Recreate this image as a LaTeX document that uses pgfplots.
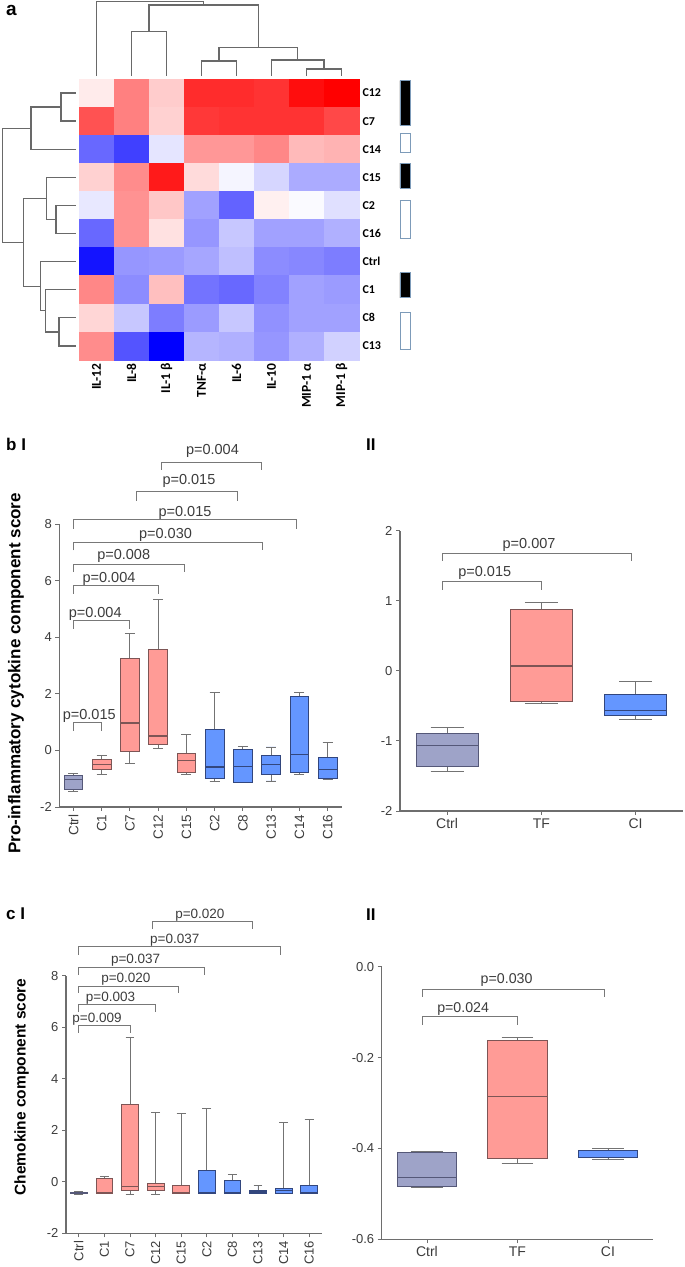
\documentclass[border=0pt]{standalone}
\usepackage{pgfplots}
\pgfplotsset{compat=1.18}
\usepgfplotslibrary{statistics}
\usepackage{fontspec}
\setmainfont{Liberation Sans}
\newfontfamily\hmfont{Carlito}
\definecolor{axg}{RGB}{110,110,110}
\definecolor{txg}{RGB}{60,60,60}
\definecolor{brg}{RGB}{120,120,120}
\definecolor{dg}{RGB}{105,105,105}
\definecolor{wg}{RGB}{115,115,115}
\definecolor{ctrlF}{RGB}{158,163,200}
\definecolor{ctrlD}{RGB}{85,88,120}
\definecolor{tfF}{RGB}{255,155,150}
\definecolor{tfD}{RGB}{125,85,85}
\definecolor{ciF}{RGB}{100,150,255}
\definecolor{ciD}{RGB}{50,70,125}
\definecolor{ibox}{RGB}{125,155,185}
\newcommand{\fs}[1]{\fontsize{#1}{#1}\selectfont}
\newcommand{\bp}[7]{\addplot[#1, boxplot prepared={draw position=#2, lower whisker=#3, lower quartile=#4, median=#5, upper quartile=#6, upper whisker=#7}] coordinates {};}
\def\pvf{\fs{14.5}}
\newcommand{\pv}[3]{\node[anchor=base, text=txg, inner sep=0pt, font=\pvf] at (axis cs:#1,#2) {#3};}
\pgfplotsset{
  bx/.style={scale only axis, axis x line*=bottom, axis y line*=left,
     axis line style={draw=axg, line width=1.1pt, -},
     tick align=outside, major tick length=4pt, minor tick num=0,
     tick style={draw=axg, line width=0.9pt},
     clip=false,
     yticklabel style={font=\fs{13}, text=txg},
     xticklabel style={text=txg},
     boxplot/draw direction=y,
     boxplot/box extend=0.66, boxplot/whisker extend=0.35,
     boxplot/every whisker/.style={draw=wg},
     boxplot/every median/.style={line width=1.2pt}},
  ctrl/.style={draw=ctrlD, fill=ctrlF, line width=0.9pt, solid, mark=none},
  tf/.style={draw=tfD, fill=tfF, line width=0.9pt, solid, mark=none},
  ci/.style={draw=ciD, fill=ciF, line width=0.9pt, solid, mark=none},
  brk/.style={draw=brg, line width=0.9pt, mark=none, solid},
  dend/.style={draw=dg, line width=1.3pt, mark=none, solid},
}
\begin{document}
\begin{tikzpicture}
% ---------------- panel a: heatmap ----------------
\begin{axis}[at={(79pt,907pt)}, anchor=south west, scale only axis,
  width=280pt, height=281pt, xmin=-0.5, xmax=7.5, ymin=-0.5, ymax=9.5,
  y dir=reverse, clip=false, axis line style={draw=none}, major tick length=0pt,
  xtick={0,...,7}, xticklabels={IL-12,IL-8,IL-1 β,TNF-α,IL-6,IL-10,MIP-1 α,MIP-1 β},
  xticklabel style={rotate=90, anchor=east, font=\hmfont\bfseries\fs{13.5}},
  ytick={0,...,9}, yticklabels={C12,C7,C14,C15,C2,C16,Ctrl,C1,C8,C13},
  yticklabel pos=right, yticklabel style={anchor=west, font=\hmfont\bfseries\fs{12}},
  colormap={bwr}{rgb255(0cm)=(0,0,255); rgb255(1cm)=(255,255,255); rgb255(2cm)=(255,0,0)},
  point meta min=-1, point meta max=1]
\addplot[matrix plot*, mesh/cols=8, mesh/rows=10, point meta=explicit] table[meta=c] {
x y c
0 0 0.08
1 0 0.5
2 0 0.2
3 0 0.83
4 0 0.83
5 0 0.8
6 0 0.95
7 0 1.0
0 1 0.68
1 1 0.5
2 1 0.18
3 1 0.78
4 1 0.8
5 1 0.8
6 1 0.8
7 1 0.72
0 2 -0.59
1 2 -0.75
2 2 -0.1
3 2 0.41
4 2 0.41
5 2 0.47
6 2 0.27
7 2 0.3
0 3 0.18
1 3 0.45
2 3 0.9
3 3 0.14
4 3 -0.04
5 3 -0.16
6 3 -0.33
7 3 -0.33
0 4 -0.09
1 4 0.43
2 4 0.22
3 4 -0.37
4 4 -0.61
5 4 0.06
6 4 -0.02
7 4 -0.12
0 5 -0.59
1 5 0.43
2 5 0.12
3 5 -0.41
4 5 -0.22
5 5 -0.37
6 5 -0.37
7 5 -0.31
0 6 -0.92
1 6 -0.41
2 6 -0.39
3 6 -0.35
4 6 -0.25
5 6 -0.45
6 6 -0.47
7 6 -0.51
0 7 0.47
1 7 -0.45
2 7 0.25
3 7 -0.55
4 7 -0.59
5 7 -0.49
6 7 -0.37
7 7 -0.39
0 8 0.16
1 8 -0.22
2 8 -0.51
3 8 -0.39
4 8 -0.22
5 8 -0.43
6 8 -0.37
7 8 -0.37
0 9 0.45
1 9 -0.67
2 9 -1
3 9 -0.29
4 9 -0.31
5 9 -0.41
6 9 -0.31
7 9 -0.18
};
% top dendrogram
\addplot[dend] coordinates {(1,-0.6) (1,-2.18) (2,-2.18) (2,-0.6)};
\addplot[dend] coordinates {(3,-0.6) (3,-1.14) (4,-1.14) (4,-0.6)};
\addplot[dend] coordinates {(6,-0.6) (6,-0.86) (7,-0.86) (7,-0.6)};
\addplot[dend] coordinates {(5,-0.6) (5,-1.18) (6.5,-1.18) (6.5,-0.86)};
\addplot[dend] coordinates {(3.5,-1.14) (3.5,-1.61) (5.75,-1.61) (5.75,-1.18)};
\addplot[dend] coordinates {(1.5,-2.18) (1.5,-3.13) (4.625,-3.13) (4.625,-1.61)};
\addplot[dend] coordinates {(0,-0.6) (0,-3.25) (3.0625,-3.25) (3.0625,-3.13)};
% left dendrogram
\addplot[dend] coordinates {(-0.586,0) (-1.014,0) (-1.014,1) (-0.586,1)};
\addplot[dend] coordinates {(-1.014,0.5) (-1.871,0.5) (-1.871,2) (-0.586,2)};
\addplot[dend] coordinates {(-0.586,4) (-1.157,4) (-1.157,5) (-0.586,5)};
\addplot[dend] coordinates {(-0.586,3) (-1.423,3) (-1.423,4.5) (-1.157,4.5)};
\addplot[dend] coordinates {(-0.586,8) (-1.071,8) (-1.071,9) (-0.586,9)};
\addplot[dend] coordinates {(-0.586,7) (-1.451,7) (-1.451,8.5) (-1.071,8.5)};
\addplot[dend] coordinates {(-0.586,6) (-1.594,6) (-1.594,7.75) (-1.451,7.75)};
\addplot[dend] coordinates {(-1.423,3.75) (-2.09,3.75) (-2.09,6.875) (-1.594,6.875)};
\addplot[dend] coordinates {(-1.871,1.25) (-2.68,1.25) (-2.68,5.31) (-2.09,5.31)};
% group indicator boxes
\addplot[fill=black, draw=ibox, line width=0.8pt, mark=none] coordinates {(8.67,-0.44) (8.96,-0.44) (8.96,1.16) (8.67,1.16) (8.67,-0.44)};
\addplot[fill=white, draw=ibox, line width=0.8pt, mark=none] coordinates {(8.67,1.42) (8.96,1.42) (8.96,2.1) (8.67,2.1) (8.67,1.42)};
\addplot[fill=black, draw=ibox, line width=0.8pt, mark=none] coordinates {(8.67,2.49) (8.96,2.49) (8.96,3.38) (8.67,3.38) (8.67,2.49)};
\addplot[fill=white, draw=ibox, line width=0.8pt, mark=none] coordinates {(8.67,3.81) (8.96,3.81) (8.96,5.16) (8.67,5.16) (8.67,3.81)};
\addplot[fill=black, draw=ibox, line width=0.8pt, mark=none] coordinates {(8.67,6.4) (8.96,6.4) (8.96,7.29) (8.67,7.29) (8.67,6.4)};
\addplot[fill=white, draw=ibox, line width=0.8pt, mark=none] coordinates {(8.67,7.79) (8.96,7.79) (8.96,9.14) (8.67,9.14) (8.67,7.79)};
\end{axis}

% ---------------- panel b I ----------------
\def\pvf{\fs{14.5}}
\begin{axis}[bx, at={(59.3pt,460pt)}, anchor=south west, width=282.5pt, height=283pt,
  xmin=-0.5, xmax=9.5, ymin=-2, ymax=8,
  ytick={-2,0,2,4,6,8}, yticklabels={-2,0,2,4,6,8},
  xtick={0,...,9}, xticklabels={Ctrl,C1,C7,C12,C15,C2,C8,C13,C14,C16},
  xticklabel style={rotate=90, anchor=east, font=\fs{13.5}}]
\bp{ctrl}{0}{-1.45}{-1.38}{-1.04}{-0.88}{-0.80}
\bp{tf}{1}{-0.86}{-0.67}{-0.49}{-0.33}{-0.17}
\bp{tf}{2}{-0.47}{-0.04}{0.97}{3.24}{4.12}
\bp{tf}{3}{0.06}{0.20}{0.51}{3.56}{5.33}
\bp{tf}{4}{-0.86}{-0.77}{-0.35}{-0.12}{0.55}
\bp{ci}{5}{-1.10}{-1.00}{-0.59}{0.74}{2.06}
\bp{ci}{6}{-1.15}{-1.12}{-0.57}{0.04}{0.15}
\bp{ci}{7}{-1.08}{-0.86}{-0.51}{-0.18}{0.12}
\bp{ci}{8}{-0.86}{-0.79}{-0.15}{1.91}{2.03}
\bp{ci}{9}{-1.04}{-1.00}{-0.68}{-0.24}{0.29}
\addplot[brk] coordinates {(0,0.70) (0,1.0) (1,1.0) (1,0.70)};
\addplot[brk] coordinates {(0,4.30) (0,4.59) (2,4.59) (2,4.30)};
\addplot[brk] coordinates {(0,5.54) (0,5.83) (3,5.83) (3,5.54)};
\addplot[brk] coordinates {(0,6.30) (0,6.57) (3.93,6.57) (3.93,6.30)};
\addplot[brk] coordinates {(0,7.07) (0,7.34) (6.69,7.34) (6.69,7.07)};
\addplot[brk] coordinates {(0,7.83) (0,8.15) (7.91,8.15) (7.91,7.83)};
\addplot[brk] coordinates {(2.24,8.83) (2.24,9.15) (5.8,9.15) (5.8,8.83)};
\addplot[brk] coordinates {(3.13,9.92) (3.13,10.19) (6.64,10.19) (6.64,9.92)};
\pv{0.56}{1.08}{p=0.015}
\pv{0.77}{4.69}{p=0.004}
\pv{1.26}{5.92}{p=0.004}
\pv{1.78}{6.74}{p=0.008}
\pv{3.26}{7.50}{p=0.030}
\pv{3.95}{8.28}{p=0.015}
\pv{4.09}{9.39}{p=0.015}
\pv{4.92}{10.45}{p=0.004}
\end{axis}

% ---------------- panel b II ----------------
\begin{axis}[bx, at={(400pt,456pt)}, anchor=south west, width=282.6pt, height=280.3pt,
  xmin=-0.5, xmax=2.5, ymin=-2, ymax=2,
  ytick={-2,-1,0,1,2}, yticklabels={-2,-1,0,1,2},
  xtick={0,1,2}, xticklabels={Ctrl,TF,CI},
  xticklabel style={font=\fs{14}}]
\bp{ctrl}{0}{-1.43}{-1.37}{-1.06}{-0.89}{-0.81}
\bp{tf}{1}{-0.46}{-0.44}{0.07}{0.87}{0.98}
\bp{ci}{2}{-0.69}{-0.63}{-0.57}{-0.34}{-0.15}
\addplot[brk] coordinates {(-0.05,1.16) (-0.05,1.27) (1,1.27) (1,1.16)};
\addplot[brk] coordinates {(-0.05,1.57) (-0.05,1.68) (1.96,1.68) (1.96,1.57)};
\pv{0.40}{1.34}{p=0.015}
\pv{0.87}{1.75}{p=0.007}
\end{axis}

% ---------------- panel c I ----------------
\def\pvf{\fs{13.5}}
\begin{axis}[bx, at={(66pt,33.7pt)}, anchor=south west, width=256pt, height=257.6pt,
  xmin=-0.5, xmax=9.5, ymin=-2, ymax=8,
  ytick={-2,0,2,4,6,8}, yticklabels={-2,0,2,4,6,8},
  xtick={0,...,9}, xticklabels={Ctrl,C1,C7,C12,C15,C2,C8,C13,C14,C16},
  xticklabel style={rotate=90, anchor=east, font=\fs{13}}]
\bp{ctrl}{0}{-0.50}{-0.47}{-0.44}{-0.40}{-0.38}
\bp{tf}{1}{-0.46}{-0.45}{-0.41}{0.13}{0.22}
\bp{tf}{2}{-0.48}{-0.35}{-0.17}{3.01}{5.62}
\bp{tf}{3}{-0.48}{-0.35}{-0.19}{-0.06}{2.69}
\bp{tf}{4}{-0.46}{-0.44}{-0.42}{-0.15}{2.65}
\bp{ci}{5}{-0.47}{-0.45}{-0.43}{0.43}{2.84}
\bp{ci}{6}{-0.47}{-0.45}{-0.42}{0.04}{0.30}
\bp{ci}{7}{-0.47}{-0.45}{-0.40}{-0.35}{-0.14}
\bp{ci}{8}{-0.46}{-0.45}{-0.35}{-0.26}{2.30}
\bp{ci}{9}{-0.46}{-0.45}{-0.42}{-0.13}{2.43}
\addplot[brk] coordinates {(0,5.79) (0,6.05) (2,6.05) (2,5.79)};
\addplot[brk] coordinates {(0,6.59) (0,6.88) (3,6.88) (3,6.59)};
\addplot[brk] coordinates {(0,7.33) (0,7.60) (3.9,7.60) (3.9,7.33)};
\addplot[brk] coordinates {(0,8.04) (0,8.33) (4.9,8.33) (4.9,8.04)};
\addplot[brk] coordinates {(0,8.81) (0,9.14) (7.88,9.14) (7.88,8.81)};
\addplot[brk] coordinates {(2.88,9.81) (2.88,10.1) (6.78,10.1) (6.78,9.81)};
\pv{0.71}{6.18}{p=0.009}
\pv{1.24}{6.98}{p=0.003}
\pv{1.84}{7.73}{p=0.020}
\pv{2.22}{8.49}{p=0.037}
\pv{3.75}{9.26}{p=0.037}
\pv{4.73}{10.23}{p=0.020}
\end{axis}

% ---------------- panel c II ----------------
\def\pvf{\fs{14.2}}
\begin{axis}[bx, at={(381.7pt,27.7pt)}, anchor=south west, width=271.5pt, height=272.6pt,
  xmin=-0.5, xmax=2.5, ymin=-0.6, ymax=0,
  ytick={-0.6,-0.4,-0.2,0}, yticklabels={-0.6,-0.4,-0.2,0.0},
  xtick={0,1,2}, xticklabels={Ctrl,TF,CI},
  xticklabel style={font=\fs{14}}]
\bp{ctrl}{0}{-0.486}{-0.484}{-0.464}{-0.409}{-0.406}
\bp{tf}{1}{-0.433}{-0.422}{-0.286}{-0.163}{-0.156}
\bp{ci}{2}{-0.424}{-0.420}{-0.405}{-0.404}{-0.401}
\addplot[brk] coordinates {(-0.055,-0.128) (-0.055,-0.110) (1.0,-0.110) (1.0,-0.128)};
\addplot[brk] coordinates {(-0.055,-0.066) (-0.055,-0.050) (1.96,-0.050) (1.96,-0.066)};
\pv{0.40}{-0.101}{p=0.024}
\pv{0.88}{-0.037}{p=0.030}
\end{axis}

% panel letters and y labels
\node[anchor=base west, font=\bfseries\fs{19}, inner sep=0pt] at (6pt,1251pt) {a};
\node[anchor=base west, font=\bfseries\fs{17}, inner sep=0pt] at (6pt,816pt) {b I};
\node[anchor=base west, font=\bfseries\fs{17}, inner sep=0pt] at (366pt,816pt) {II};
\node[anchor=base west, font=\bfseries\fs{17}, inner sep=0pt] at (6pt,347pt) {c I};
\node[anchor=base west, font=\bfseries\fs{17}, inner sep=0pt] at (366pt,346pt) {II};
\node[rotate=90, font=\bfseries\fs{17}, inner sep=0pt] at (16pt,593.5pt) {Pro-inflammatory cytokine component score};
\node[rotate=90, font=\bfseries\fs{15.5}, inner sep=0pt] at (21.7pt,180pt) {Chemokine component score};
\pgfresetboundingbox
\path[use as bounding box] (0pt,0pt) rectangle (685pt,1267pt);
\end{tikzpicture}
\end{document}
